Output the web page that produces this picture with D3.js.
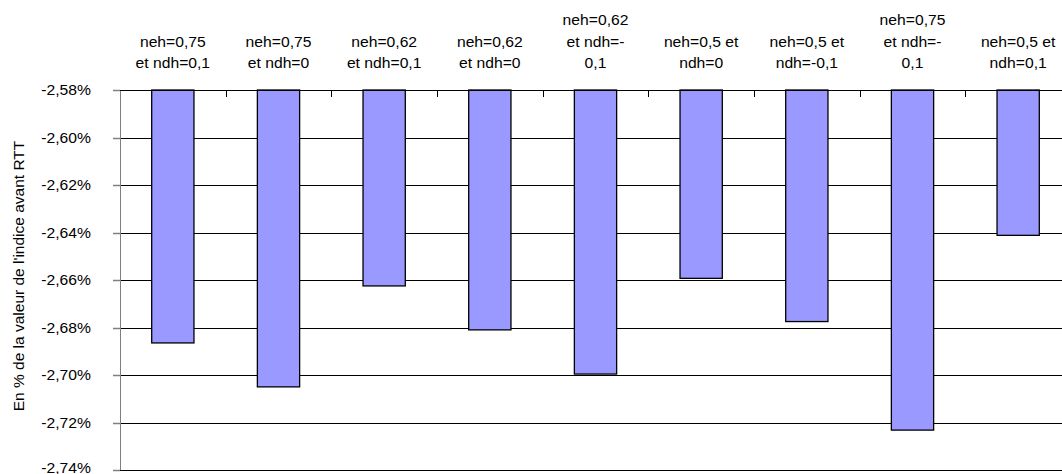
<!DOCTYPE html>
<html>
<head>
<meta charset="utf-8">
<script src="https://cdn.jsdelivr.net/npm/d3@7"></script>
<style>
  html, body { margin: 0; padding: 0; background: #fff; overflow: hidden; }
  text { font-family: "Liberation Sans", Arial, sans-serif; fill: #000; }
</style>
</head>
<body>
<svg id="chart" width="1062" height="474"></svg>
<script>
// ---- data ----
const categories = [
  "neh=0,75 et ndh=0,1",
  "neh=0,75 et ndh=0",
  "neh=0,62 et ndh=0,1",
  "neh=0,62 et ndh=0",
  "neh=0,62 et ndh=-0,1",
  "neh=0,5 et ndh=0",
  "neh=0,5 et ndh=-0,1",
  "neh=0,75 et ndh=-0,1",
  "neh=0,5 et ndh=0,1"
];
const categoryLabelLines = [
  ["neh=0,75", "et ndh=0,1"],
  ["neh=0,75", "et ndh=0"],
  ["neh=0,62", "et ndh=0,1"],
  ["neh=0,62", "et ndh=0"],
  ["neh=0,62", "et ndh=-", "0,1"],
  ["neh=0,5 et", "ndh=0"],
  ["neh=0,5 et", "ndh=-0,1"],
  ["neh=0,75", "et ndh=-", "0,1"],
  ["neh=0,5 et", "ndh=0,1"]
];
const values = [-2.6865, -2.7050, -2.6625, -2.6810, -2.6996, -2.6593, -2.6775, -2.7232, -2.6412];
const yTickValues = [-2.58, -2.60, -2.62, -2.64, -2.66, -2.68, -2.70, -2.72, -2.74];
const yTitle = "En % de la valeur de l'indice avant RTT";

// ---- layout ----
const W = 1062, H = 474;
const svg = d3.select("#chart");
const mLeft = 120, mTop = 90, plotH = 380, plotW = 951;
const textScaleX = 1.12;
const fontSize = 14;

const x = d3.scaleBand().domain(categories).range([mLeft, mLeft + plotW])
  .paddingInner(0.6).paddingOuter(0.3);
const y = d3.scaleLinear().domain([-2.58, -2.74]).range([mTop, mTop + plotH]);

const fr = d3.formatLocale({decimal: ",", thousands: " ", grouping: [3], currency: ["", "€"], minus: "-"});
const fmt = v => fr.format(".2f")(v) + "%";

// gridlines
svg.append("g").selectAll("line").data(yTickValues.slice(1)).join("line")
  .attr("x1", mLeft).attr("x2", mLeft + plotW)
  .attr("y1", d => Math.round(y(d)) + 0.5).attr("y2", d => Math.round(y(d)) + 0.5)
  .attr("stroke", "#000").attr("stroke-width", 1);

// bars
svg.append("g").selectAll("rect").data(values).join("rect")
  .attr("x", (d, i) => x(categories[i]))
  .attr("width", x.bandwidth())
  .attr("y", y(-2.58))
  .attr("height", d => y(d) - y(-2.58))
  .attr("fill", "#9999FF")
  .attr("stroke", "#000")
  .attr("stroke-width", 1.3);

// left axis
const yl = svg.append("g");
yl.append("line").attr("x1", mLeft + 0.5).attr("x2", mLeft + 0.5)
  .attr("y1", y(-2.58)).attr("y2", y(-2.74)).attr("stroke", "#808080").attr("stroke-width", 1);
yl.selectAll("line.tk").data(yTickValues).join("line").attr("class", "tk")
  .attr("x1", mLeft - 7).attr("x2", mLeft)
  .attr("y1", d => Math.round(y(d)) + 0.5).attr("y2", d => Math.round(y(d)) + 0.5)
  .attr("stroke", "#808080").attr("stroke-width", 1.5);
yl.selectAll("text").data(yTickValues).join("text")
  .attr("transform", d => `translate(91,${Math.min(y(d) + 5, H - 1.5)}) scale(${textScaleX},1)`)
  .attr("text-anchor", "end")
  .style("font-size", fontSize + "px")
  .text(d => fmt(d));

// top category axis
const xa = svg.append("g");
xa.append("line").attr("x1", mLeft).attr("x2", mLeft + plotW)
  .attr("y1", Math.round(y(-2.58)) + 0.5).attr("y2", Math.round(y(-2.58)) + 0.5)
  .attr("stroke", "#000").attr("stroke-width", 1.2);
const gap = (x.step() - x.bandwidth()) / 2;
xa.selectAll("line.tk").data(categories.slice(1)).join("line").attr("class", "tk")
  .attr("x1", d => Math.round(x(d) - gap) + 0.5).attr("x2", d => Math.round(x(d) - gap) + 0.5)
  .attr("y1", y(-2.58)).attr("y2", y(-2.58) + 7)
  .attr("stroke", "#000").attr("stroke-width", 1);

const lineH = 21.5, lastBaseline = 68;
categories.forEach((c, i) => {
  const lines = categoryLabelLines[i];
  const cx = x(c) + x.bandwidth() / 2;
  lines.forEach((ln, j) => {
    const by = lastBaseline - (lines.length - 1 - j) * lineH;
    xa.append("text")
      .attr("transform", `translate(${cx},${by}) scale(${textScaleX},1)`)
      .attr("text-anchor", "middle")
      .style("font-size", fontSize + "px")
      .text(ln);
  });
});

// y title
svg.append("text")
  .attr("transform", `translate(19,276) rotate(-90)`)
  .attr("text-anchor", "middle").attr("dy", "0.35em")
  .style("font-size", "15.5px")
  .text(yTitle);
</script>
</body>
</html>
